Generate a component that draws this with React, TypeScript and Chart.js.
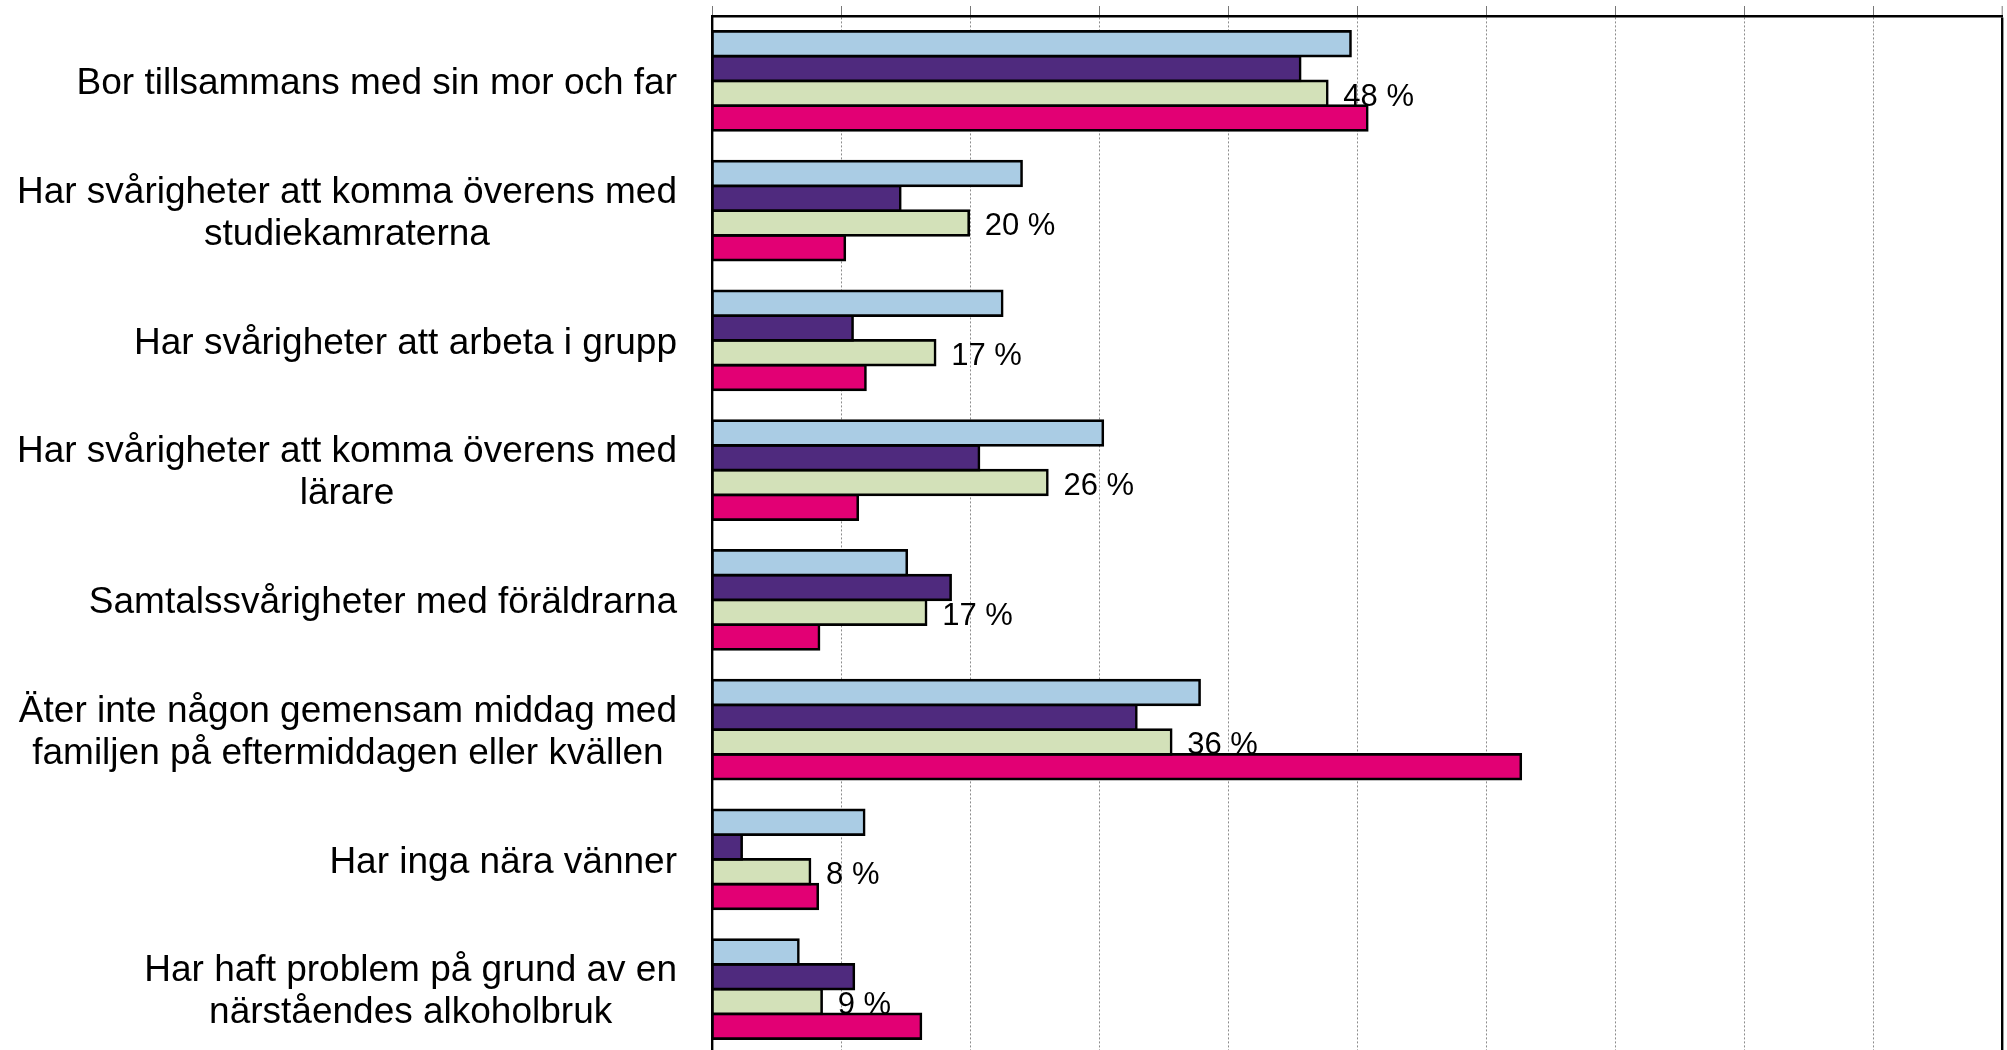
import React, { useEffect, useRef } from "react";
import { Chart, registerables } from "chart.js";

Chart.register(...registerables);

const categories: string[][] = [
  ["Bor tillsammans med sin mor och far"],
  ["Har svårigheter att komma överens med", "studiekamraterna"],
  ["Har svårigheter att arbeta i grupp"],
  ["Har svårigheter att komma överens med", "lärare"],
  ["Samtalssvårigheter med föräldrarna"],
  ["Äter inte någon gemensam middag med", "familjen på eftermiddagen eller kvällen"],
  ["Har inga nära vänner"],
  ["Har haft problem på grund av en", "närståendes alkoholbruk"],
];

const seriesA = [49.5, 24.0, 22.5, 30.3, 15.1, 37.8, 11.8, 6.7];
const seriesB = [45.6, 14.6, 10.9, 20.7, 18.5, 32.9, 2.3, 11.0];
const seriesC = [47.7, 19.9, 17.3, 26.0, 16.6, 35.6, 7.6, 8.5];
const seriesD = [50.8, 10.3, 11.9, 11.3, 8.3, 62.7, 8.2, 16.2];
const seriesCLabels = ["48 %", "20 %", "17 %", "26 %", "17 %", "36 %", "8 %", "9 %"];

const seriesNames = ["Serie 1", "Serie 2", "Serie 3", "Serie 4"];
const seriesColors = ["#AACCE4", "#4F2A7E", "#D3E1B9", "#E20074"];

const FONT = "'Liberation Sans', Arial, Helvetica, sans-serif";

const valueLabelPlugin = {
  id: "valueLabels",
  beforeDatasetsDraw(chart: any) {
    const meta = chart.getDatasetMeta(2);
    const ctx = chart.ctx;
    ctx.save();
    ctx.font = `31px ${FONT}`;
    ctx.fillStyle = "#000";
    ctx.textAlign = "left";
    ctx.textBaseline = "alphabetic";
    meta.data.forEach((el: any, i: number) => {
      ctx.fillText(seriesCLabels[i], el.x + 16, el.y + 12.5);
    });
    ctx.restore();
  },
};

const categoryLabelPlugin = {
  id: "categoryLabels",
  afterDraw(chart: any) {
    const yScale = chart.scales.y;
    const ctx = chart.ctx;
    const rightEdge = 677;
    const lineH = 42;
    ctx.save();
    ctx.font = `37px ${FONT}`;
    ctx.fillStyle = "#000";
    ctx.textAlign = "center";
    ctx.textBaseline = "alphabetic";
    categories.forEach((lines, i) => {
      const cy = yScale.getPixelForTick(i);
      const blockW = Math.max(...lines.map((l) => ctx.measureText(l).width));
      const cx = rightEdge - blockW / 2;
      lines.forEach((line, j) => {
        const ly = cy + (j - (lines.length - 1) / 2) * lineH;
        ctx.fillText(line, cx, ly + 13.2);
      });
    });
    ctx.restore();
  },
};

export default function App() {
  const canvasRef = useRef<HTMLCanvasElement | null>(null);

  useEffect(() => {
    if (!canvasRef.current) return;
    const data = [seriesA, seriesB, seriesC, seriesD];
    const chart = new Chart(canvasRef.current, {
      type: "bar",
      data: {
        labels: categories.map((c) => c.join(" ")),
        datasets: data.map((d, i) => ({
          label: seriesNames[i],
          data: d,
          backgroundColor: seriesColors[i],
          borderColor: "#000",
          borderWidth: 2.6,
          borderSkipped: false,
          inflateAmount: 1.3,
          barPercentage: 1,
          categoryPercentage: 0.763,
        })),
      },
      options: {
        indexAxis: "y",
        animation: false,
        responsive: false,
        devicePixelRatio: 1,
        layout: { padding: { top: 6, right: 5, bottom: 2, left: 0 } },
        plugins: {
          legend: { display: false },
          tooltip: { enabled: false },
          title: { display: false },
        },
        scales: {
          x: {
            type: "linear",
            position: "top",
            min: 0,
            max: 100,
            ticks: { display: false, stepSize: 10 },
            grid: {
              display: true,
              drawOnChartArea: true,
              drawTicks: true,
              tickLength: 10,
              color: (c: any) => (c.index === 10 ? "#000" : "#8c8c8c"),
              lineWidth: (c: any) => (c.index === 10 ? 2.4 : 1),
              tickColor: "#777",
              tickWidth: 1,
            },
            border: {
              display: true,
              color: "#000",
              width: 2.4,
              dash: (c: any) => (c.index === 10 ? [] : [2, 2]),
            },
          },
          y: {
            type: "category",
            position: "left",
            ticks: { display: false },
            grid: { display: false },
            border: { display: true, color: "#000", width: 2.4 },
            afterFit: (scale: any) => {
              scale.width = 712;
            },
          },
        },
      } as any,
      plugins: [valueLabelPlugin, categoryLabelPlugin],
    });
    return () => chart.destroy();
  }, []);

  return (
    <div
      style={{
        position: "absolute",
        left: 0,
        top: 0,
        width: 2007,
        height: 1050,
        overflow: "hidden",
        background: "#fff",
      }}
    >
      <canvas ref={canvasRef} width={2007} height={1056} style={{ display: "block" }} />
    </div>
  );
}
